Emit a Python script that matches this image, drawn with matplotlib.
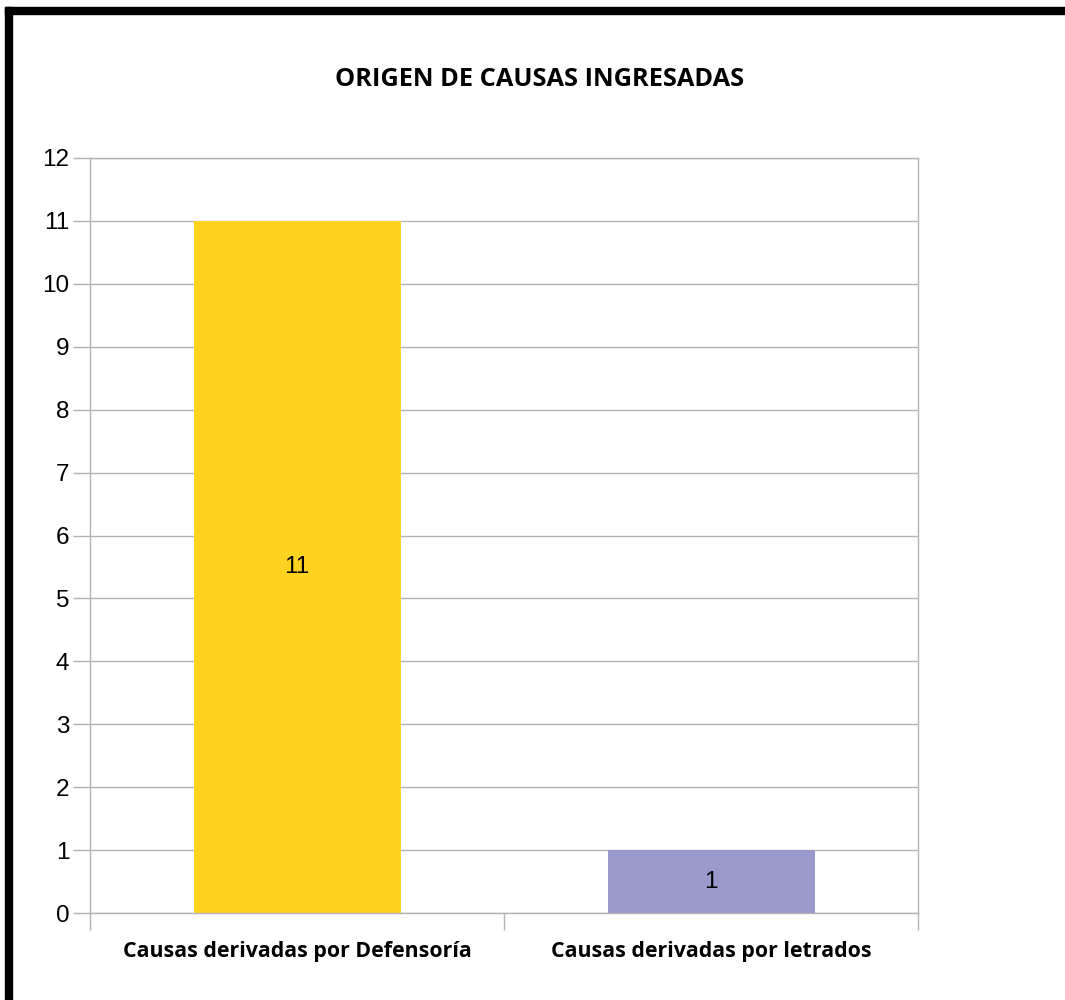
import matplotlib.pyplot as plt
from matplotlib.patches import Rectangle

# datos del grafico
categorias = ["Causas derivadas por Defensoría", "Causas derivadas por letrados"]
valores = [11, 1]
colores = ["#FFD320", "#9999CC"]
y_ticks = list(range(0, 13))

GRID = "#B3B3B3"

fig = plt.figure(figsize=(10.65, 10), dpi=100, facecolor="white")
ax = fig.add_axes([90 / 1065, 87 / 1000, 828 / 1065, 755 / 1000])

# barras
xs = list(range(len(categorias)))
ax.bar(xs, valores, width=0.5, color=colores, zorder=2)

# etiquetas de valor en el centro de cada barra
for x, v in zip(xs, valores):
    ax.text(x, v / 2, f"{v}", ha="center", va="center", fontsize=17.5,
            family="Liberation Sans", color="black", zorder=3)

ax.set_xlim(-0.5, len(categorias) - 0.5)
ax.set_ylim(0, 12)
ax.set_yticks(y_ticks)
ax.set_yticklabels([str(t) for t in y_ticks], family="Liberation Sans", fontsize=17.5)

# ticks del eje x entre categorias, etiquetas centradas
ax.set_xticks([-0.5, 0.5, 1.5])
ax.set_xticklabels([])
ax.set_xticks(xs, minor=True)
ax.set_xticklabels(categorias, minor=True, fontsize=15.4, fontweight="bold",
                   family="Open Sans")
ax.tick_params(axis="x", which="minor", length=0, pad=20)
ax.tick_params(axis="x", which="major", length=12, color=GRID, width=1)
ax.tick_params(axis="y", length=12, color=GRID, width=1, pad=3)

ax.grid(True, axis="y", color=GRID, linewidth=1, zorder=0)
for spine in ax.spines.values():
    spine.set_color(GRID)
    spine.set_linewidth(1)

# titulo
fig.text(540 / 1065, 1 - 80 / 1000, "ORIGEN DE CAUSAS INGRESADAS", ha="center",
         va="center", fontsize=18.3, fontweight="bold", family="Open Sans")

# marco negro (izquierda y arriba)
fig.patches.append(Rectangle((5 / 1065, 0), 7 / 1065, 993 / 1000,
                             transform=fig.transFigure, color="black"))
fig.patches.append(Rectangle((5 / 1065, 986 / 1000), 1060 / 1065, 7 / 1000,
                             transform=fig.transFigure, color="black"))

fig.savefig("out.png", dpi=100, facecolor="white")
